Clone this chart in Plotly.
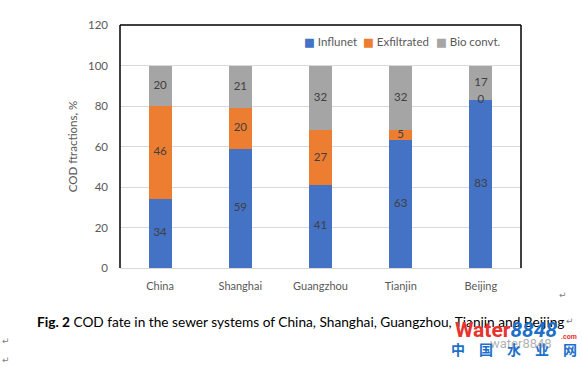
import plotly.graph_objects as go

categories = ["China", "Shanghai", "Guangzhou", "Tianjin", "Beijing"]
influent = [34, 59, 41, 63, 83]
exfiltrated = [46, 20, 27, 5, 0]
bio_convt = [20, 21, 32, 32, 17]
series_names = ["Influnet", "Exfiltrated", "Bio convt."]
colors = ["#4472C4", "#ED7D31", "#A5A5A5"]
y_ticks = [0, 20, 40, 60, 80, 100, 120]

FONT = "Lato, 'Open Sans', sans-serif"
series = [influent, exfiltrated, bio_convt]

# plot-area pixel geometry (figure is 582 x 366)
L, R, T, B = 120, 521, 25, 268
PW, PH = R - L, B - T


def px(x):
    return (x - L) / PW


def py(y):
    return (B - y) / PH


fig = go.Figure()
for name, vals, col in zip(series_names, series, colors):
    fig.add_trace(go.Bar(x=categories, y=vals, name=name, marker=dict(color=col, line=dict(width=0)),
                         width=0.285, showlegend=False))

# data labels centered in each segment
base = [0] * len(categories)
for vals in series:
    mids = [b + v / 2 for b, v in zip(base, vals)]
    fig.add_trace(go.Scatter(x=categories, y=mids, mode="text", text=[str(v) for v in vals],
                             textfont=dict(family=FONT, size=11.5, color="#404040"),
                             showlegend=False, hoverinfo="skip"))
    base = [b + v for b, v in zip(base, vals)]

# legend entries: compact swatch glyph + name, each in its own legend box
legend_ids = ["legend", "legend2", "legend3"]
legend_x = [264, 323, 396]
for name, col, lid in zip(series_names, colors, legend_ids):
    fig.add_trace(go.Scatter(x=[None], y=[None], mode="markers",
                             name=f"<span style='color:{col};font-family:DejaVu Sans'>■</span> {name}",
                             marker=dict(symbol="square", size=1, color="rgba(0,0,0,0)"),
                             legend=lid, showlegend=True, hoverinfo="skip"))

legend_style = dict(orientation="h", y=py(41), xanchor="left", yanchor="middle",
                    font=dict(family=FONT, size=11.5, color="#595959"),
                    bgcolor="rgba(0,0,0,0)", itemwidth=30, borderwidth=0)

fig.update_layout(
    barmode="stack",
    width=582, height=366,
    margin=dict(l=L, r=582 - R, t=T, b=366 - B),
    paper_bgcolor="white", plot_bgcolor="white",
    font=dict(family=FONT, size=11, color="#595959"),
    legend=dict(x=px(legend_x[0]), **legend_style),
    legend2=dict(x=px(legend_x[1]), **legend_style),
    legend3=dict(x=px(legend_x[2]), **legend_style),
    xaxis=dict(range=[-0.5, 4.5], showgrid=False, showline=False, ticks="", automargin=False,
               tickfont=dict(family=FONT, size=11, color="#595959"), ticklabelstandoff=10),
    yaxis=dict(range=[0, 120], tickvals=y_ticks, showgrid=True, gridcolor="#D9D9D9", gridwidth=1,
               zeroline=True, zerolinecolor="#D9D9D9", zerolinewidth=1, showline=False,
               automargin=False,
               tickfont=dict(family=FONT, size=11.5, color="#595959"), ticklabelstandoff=11,
               title=dict(text="COD ftractions, %", font=dict(family=FONT, size=11.5, color="#595959"),
                          standoff=7)),
)

# black frame (left, top, right)
for x0, y0, x1, y1 in [(0, 0, 0, 1), (0, 1, 1, 1), (1, 1, 1, 0)]:
    fig.add_shape(type="line", xref="paper", yref="paper", x0=x0, y0=y0, x1=x1, y1=y1,
                  line=dict(color="black", width=1.5))

# caption
fig.add_annotation(xref="paper", yref="paper", x=px(35), y=py(321),
                   xanchor="left", yanchor="middle", showarrow=False,
                   text="<b>Fig. 2</b> COD fate in the sewer systems of China, Shanghai, Guangzhou, Tianjin and Beijing",
                   font=dict(family=FONT, size=13.7, color="black"))

# paragraph marks
for mx, my in [(563, 295), (570, 321), (6, 341), (6, 360)]:
    fig.add_annotation(xref="paper", yref="paper", x=px(mx), y=py(my),
                       xanchor="center", yanchor="middle", showarrow=False, text="↵",
                       font=dict(family="DejaVu Sans", size=9, color="#808080"))

# watermark
fig.add_annotation(xref="paper", yref="paper", x=px(453), y=py(330),
                   xanchor="left", yanchor="middle", showarrow=False,
                   text="<b><span style='color:#E8322E'>Water</span><span style='color:#1E6FC8'><i>8848</i></span></b>",
                   font=dict(family="Roboto", size=21))
fig.add_annotation(xref="paper", yref="paper", x=px(569), y=py(337),
                   xanchor="center", yanchor="middle", showarrow=False, text="<b>.com</b>",
                   font=dict(family="Roboto", size=7, color="#E8322E"))
fig.add_annotation(xref="paper", yref="paper", x=px(521), y=py(343),
                   xanchor="center", yanchor="middle", showarrow=False, text="water8848",
                   font=dict(family="Roboto", size=13, color="rgba(110,110,110,0.55)"))
fig.add_annotation(xref="paper", yref="paper", x=px(514), y=py(349),
                   xanchor="center", yanchor="middle", showarrow=False,
                   text="<b>中　国　水　业　网</b>",
                   font=dict(family="Noto Sans CJK SC", size=14, color="#1E6FC8"))

fig.write_html("out.html", config={"displayModeBar": False},
               post_script="document.body.style.margin='0';")
